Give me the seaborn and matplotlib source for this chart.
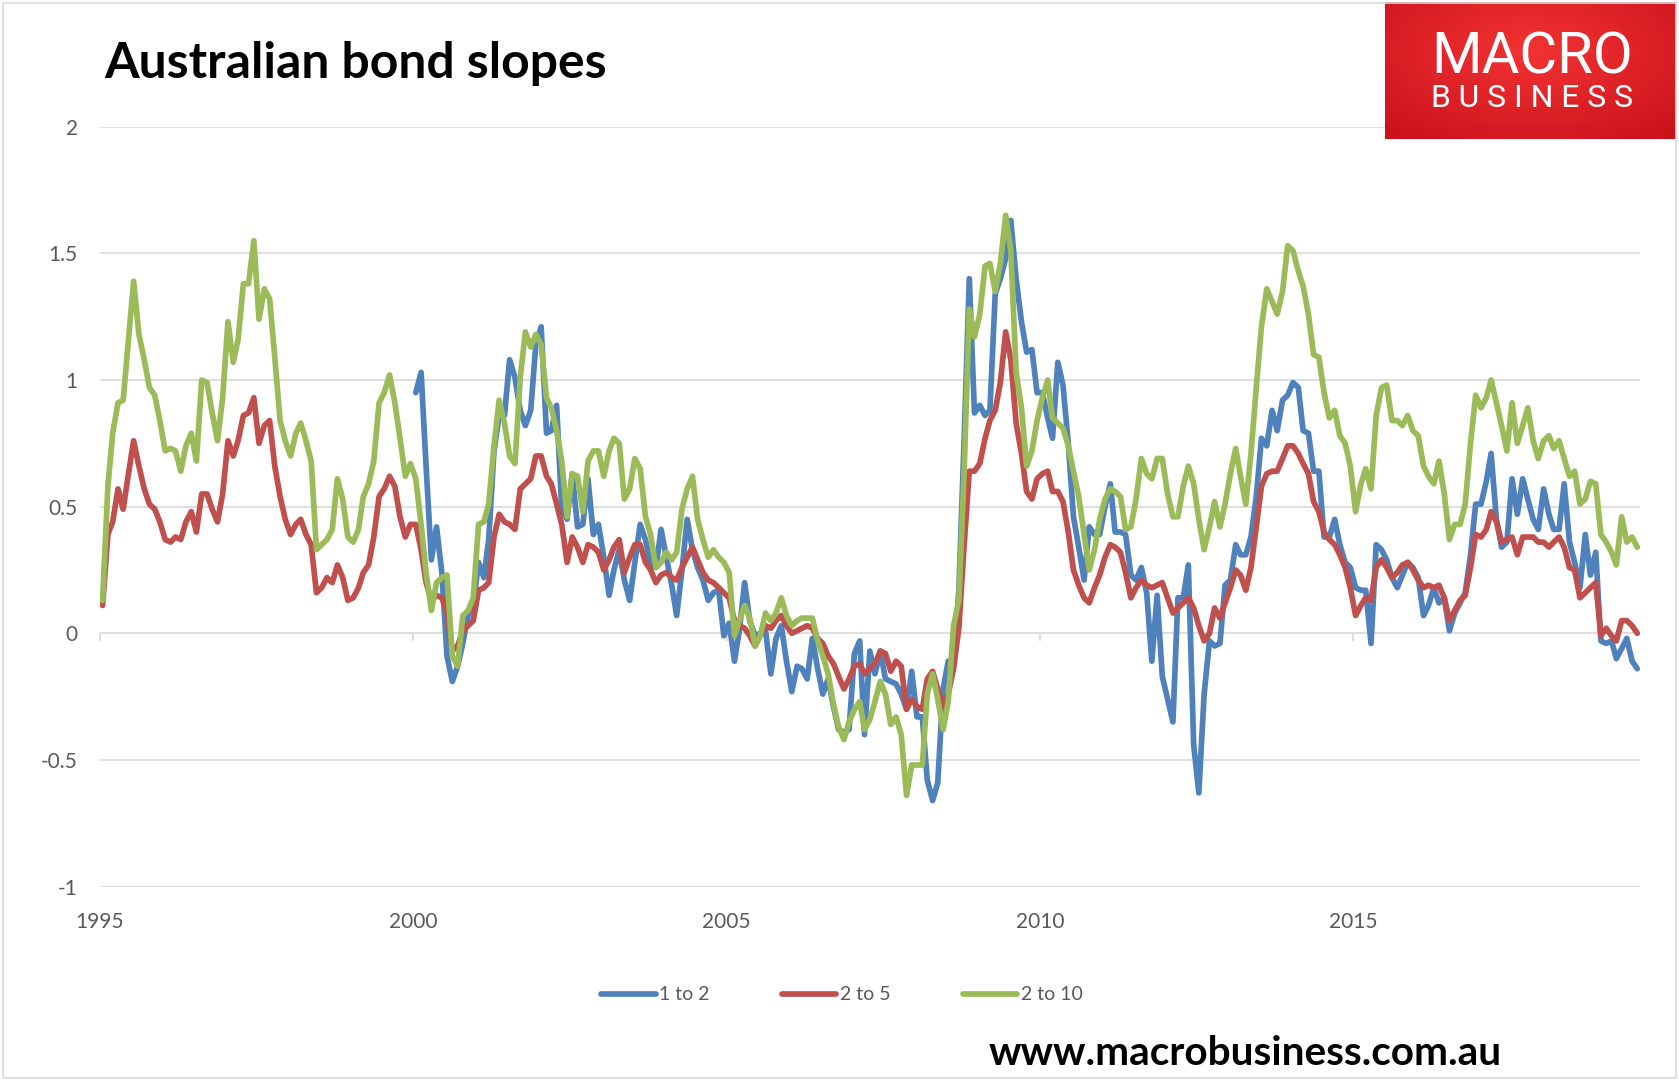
import matplotlib
matplotlib.use("Agg")
import matplotlib.pyplot as plt
import matplotlib.patches as mpatches
import numpy as np
import pandas as pd
import seaborn as sns

# ---------------- data (monthly, Jan 1995 - Jul 2019) ----------------
months = pd.date_range("1995-01-01", periods=295, freq="MS")

slope_2_10 = [
    0.13, 0.58, 0.79, 0.91, 0.92, 1.16, 1.39, 1.18, 1.08, 0.97,
    0.94, 0.84, 0.72, 0.73, 0.72, 0.64, 0.74, 0.79, 0.68, 1.00,
    0.99, 0.87, 0.76, 0.93, 1.23, 1.07, 1.16, 1.38, 1.38, 1.55,
    1.24, 1.36, 1.32, 1.09, 0.84, 0.76, 0.70, 0.79, 0.83, 0.76,
    0.68, 0.33, 0.35, 0.37, 0.41, 0.61, 0.53, 0.38, 0.36, 0.41,
    0.54, 0.59, 0.68, 0.91, 0.95, 1.02, 0.91, 0.77, 0.62, 0.67,
    0.61, 0.43, 0.24, 0.09, 0.20, 0.22, 0.23, -0.09, -0.13, 0.07,
    0.09, 0.14, 0.43, 0.44, 0.51, 0.74, 0.92, 0.83, 0.70, 0.67,
    1.01, 1.19, 1.13, 1.18, 1.14, 0.93, 0.89, 0.80, 0.68, 0.46,
    0.63, 0.62, 0.48, 0.68, 0.72, 0.72, 0.62, 0.72, 0.77, 0.75,
    0.53, 0.57, 0.69, 0.65, 0.46, 0.39, 0.26, 0.28, 0.32, 0.29,
    0.32, 0.49, 0.57, 0.62, 0.45, 0.37, 0.30, 0.33, 0.30, 0.28,
    0.24, -0.01, 0.05, 0.11, 0.06, -0.05, -0.01, 0.08, 0.05, 0.08,
    0.14, 0.07, 0.03, 0.05, 0.06, 0.06, 0.06, -0.03, -0.09, -0.16,
    -0.28, -0.37, -0.42, -0.35, -0.30, -0.27, -0.38, -0.34, -0.27, -0.19,
    -0.24, -0.36, -0.33, -0.40, -0.64, -0.52, -0.52, -0.52, -0.24, -0.16,
    -0.26, -0.38, -0.27, 0.03, 0.13, 0.62, 1.28, 1.17, 1.26, 1.45,
    1.46, 1.35, 1.46, 1.65, 1.51, 1.03, 0.89, 0.66, 0.72, 0.84,
    0.93, 1.00, 0.85, 0.83, 0.81, 0.74, 0.64, 0.54, 0.39, 0.25,
    0.33, 0.45, 0.53, 0.57, 0.56, 0.54, 0.41, 0.42, 0.53, 0.69,
    0.63, 0.61, 0.69, 0.69, 0.55, 0.46, 0.46, 0.58, 0.66, 0.59,
    0.45, 0.33, 0.42, 0.52, 0.42, 0.51, 0.63, 0.73, 0.62, 0.51,
    0.71, 0.97, 1.21, 1.36, 1.31, 1.26, 1.35, 1.53, 1.51, 1.43,
    1.37, 1.26, 1.10, 1.09, 0.95, 0.85, 0.88, 0.78, 0.75, 0.66,
    0.48, 0.59, 0.65, 0.57, 0.86, 0.97, 0.98, 0.84, 0.84, 0.82,
    0.86, 0.80, 0.78, 0.66, 0.62, 0.59, 0.68, 0.55, 0.37, 0.43,
    0.43, 0.51, 0.75, 0.94, 0.89, 0.93, 1.00, 0.91, 0.82, 0.72,
    0.91, 0.75, 0.82, 0.89, 0.76, 0.69, 0.76, 0.78, 0.73, 0.76,
    0.69, 0.62, 0.64, 0.51, 0.53, 0.60, 0.59, 0.39, 0.36, 0.32,
    0.27, 0.46, 0.36, 0.38, 0.34,
]

slope_2_5 = [
    0.11, 0.39, 0.44, 0.57, 0.49, 0.63, 0.76, 0.66, 0.57, 0.51,
    0.49, 0.44, 0.37, 0.36, 0.38, 0.37, 0.44, 0.48, 0.40, 0.55,
    0.55, 0.49, 0.44, 0.55, 0.76, 0.70, 0.76, 0.86, 0.87, 0.93,
    0.75, 0.82, 0.84, 0.66, 0.54, 0.45, 0.39, 0.43, 0.45, 0.39,
    0.35, 0.16, 0.18, 0.22, 0.20, 0.27, 0.22, 0.13, 0.14, 0.18,
    0.24, 0.27, 0.38, 0.54, 0.57, 0.62, 0.58, 0.46, 0.38, 0.43,
    0.43, 0.33, 0.20, 0.13, 0.15, 0.14, 0.08, -0.07, -0.05, 0.01,
    0.03, 0.05, 0.17, 0.18, 0.20, 0.38, 0.47, 0.44, 0.43, 0.41,
    0.57, 0.59, 0.61, 0.70, 0.70, 0.62, 0.59, 0.51, 0.43, 0.28,
    0.38, 0.34, 0.28, 0.35, 0.34, 0.32, 0.25, 0.29, 0.34, 0.37,
    0.24, 0.30, 0.35, 0.35, 0.28, 0.25, 0.20, 0.23, 0.24, 0.22,
    0.21, 0.26, 0.30, 0.34, 0.29, 0.24, 0.21, 0.20, 0.18, 0.16,
    0.14, 0.05, 0.03, 0.02, -0.01, -0.05, -0.01, 0.03, 0.02, 0.05,
    0.07, 0.03, 0.00, 0.01, 0.02, 0.03, 0.02, -0.02, -0.04, -0.09,
    -0.12, -0.17, -0.22, -0.18, -0.13, -0.12, -0.16, -0.14, -0.12, -0.07,
    -0.08, -0.15, -0.11, -0.13, -0.30, -0.26, -0.29, -0.30, -0.18, -0.15,
    -0.22, -0.29, -0.24, -0.14, 0.02, 0.34, 0.64, 0.64, 0.67, 0.77,
    0.84, 0.88, 0.99, 1.19, 1.08, 0.83, 0.71, 0.56, 0.53, 0.61,
    0.63, 0.64, 0.56, 0.56, 0.52, 0.40, 0.25, 0.19, 0.14, 0.12,
    0.18, 0.23, 0.30, 0.35, 0.34, 0.32, 0.24, 0.14, 0.18, 0.21,
    0.19, 0.18, 0.19, 0.20, 0.14, 0.08, 0.10, 0.12, 0.14, 0.10,
    0.03, -0.03, 0.00, 0.10, 0.06, 0.12, 0.18, 0.25, 0.23, 0.17,
    0.26, 0.42, 0.58, 0.63, 0.64, 0.64, 0.69, 0.74, 0.74, 0.71,
    0.67, 0.63, 0.52, 0.48, 0.40, 0.37, 0.35, 0.31, 0.26, 0.18,
    0.07, 0.11, 0.14, 0.13, 0.26, 0.29, 0.26, 0.22, 0.24, 0.27,
    0.28, 0.25, 0.21, 0.18, 0.19, 0.18, 0.19, 0.14, 0.05, 0.09,
    0.13, 0.15, 0.26, 0.39, 0.38, 0.41, 0.48, 0.44, 0.36, 0.37,
    0.38, 0.31, 0.38, 0.38, 0.38, 0.36, 0.36, 0.34, 0.36, 0.38,
    0.34, 0.26, 0.25, 0.14, 0.16, 0.18, 0.20, -0.01, 0.02, -0.01,
    -0.03, 0.05, 0.05, 0.03, 0.00,
]

slope_1_2 = [np.nan] * 60 + [
    0.95, 1.03, 0.66, 0.29, 0.42, 0.24, -0.09, -0.19, -0.13, -0.04,
    0.07, 0.11, 0.28, 0.22, 0.37, 0.72, 0.86, 0.86, 1.08, 1.01,
    0.88, 0.82, 0.88, 1.14, 1.21, 0.79, 0.80, 0.90, 0.49, 0.45,
    0.63, 0.42, 0.43, 0.61, 0.39, 0.43, 0.30, 0.15, 0.25, 0.33,
    0.21, 0.13, 0.28, 0.43, 0.37, 0.27, 0.26, 0.41, 0.30, 0.19,
    0.07, 0.25, 0.45, 0.33, 0.26, 0.21, 0.13, 0.16, 0.17, -0.01,
    0.04, -0.11, 0.01, 0.20, 0.05, -0.01, 0.00, 0.01, -0.16, -0.02,
    0.03, -0.11, -0.23, -0.13, -0.14, -0.18, -0.02, -0.14, -0.24, -0.18,
    -0.29, -0.38, -0.39, -0.38, -0.08, -0.03, -0.40, -0.07, -0.16, -0.07,
    -0.18, -0.19, -0.20, -0.24, -0.30, -0.15, -0.33, -0.33, -0.58, -0.66,
    -0.59, -0.22, -0.11, -0.13, 0.17, 0.75, 1.40, 0.87, 0.90, 0.86,
    0.88, 1.34, 1.40, 1.48, 1.63, 1.40, 1.23, 1.11, 1.12, 0.95,
    0.95, 0.85, 0.77, 1.07, 0.98, 0.75, 0.46, 0.34, 0.21, 0.42,
    0.39, 0.39, 0.50, 0.59, 0.40, 0.40, 0.39, 0.23, 0.21, 0.26,
    0.16, -0.11, 0.15, -0.17, -0.26, -0.35, 0.14, 0.14, 0.27, -0.44,
    -0.63, -0.24, -0.03, -0.05, -0.04, 0.19, 0.21, 0.35, 0.31, 0.31,
    0.38, 0.54, 0.77, 0.74, 0.88, 0.80, 0.92, 0.94, 0.99, 0.97,
    0.80, 0.79, 0.64, 0.64, 0.38, 0.38, 0.45, 0.35, 0.28, 0.26,
    0.18, 0.17, 0.17, -0.04, 0.35, 0.33, 0.29, 0.22, 0.18, 0.23,
    0.28, 0.26, 0.22, 0.07, 0.11, 0.18, 0.12, 0.14, 0.01, 0.08,
    0.12, 0.16, 0.31, 0.51, 0.51, 0.60, 0.71, 0.45, 0.34, 0.36,
    0.61, 0.47, 0.61, 0.53, 0.45, 0.41, 0.57, 0.47, 0.41, 0.41,
    0.59, 0.36, 0.28, 0.18, 0.39, 0.23, 0.32, -0.03, -0.04, -0.03,
    -0.10, -0.06, -0.02, -0.11, -0.14,
]

series_names = ["1 to 2", "2 to 5", "2 to 10"]
series_colors = ["#4F81BD", "#C0504D", "#9BBB59"]
y_ticks = [-1, -0.5, 0, 0.5, 1, 1.5, 2]
y_tick_labels = ["-1", "-0.5", "0", "0.5", "1", "1.5", "2"]
x_tick_years = [1995, 2000, 2005, 2010, 2015]
title = "Australian bond slopes"
site = "www.macrobusiness.com.au"

# ---------------- build long table ----------------
mid = months + pd.Timedelta(days=15)
df = pd.concat([
    pd.DataFrame({"date": mid, "value": slope_1_2, "series": series_names[0]}),
    pd.DataFrame({"date": mid, "value": slope_2_5, "series": series_names[1]}),
    pd.DataFrame({"date": mid, "value": slope_2_10, "series": series_names[2]}),
]).dropna()

# ---------------- figure ----------------
sns.set_theme(style="white")
plt.rcParams["font.family"] = ["Lato", "DejaVu Sans"]

W, H = 1679, 1084
fig = plt.figure(figsize=(W / 100, H / 100), dpi=100)
fig.patch.set_facecolor("white")

ax = fig.add_axes([100 / W, 1 - 886.6 / H, 1540 / W, (886.6 - 126.7) / H])
ax.set_facecolor("white")

sns.lineplot(data=df, x="date", y="value", hue="series",
             hue_order=series_names, palette=series_colors,
             estimator=None, sort=False, linewidth=4.1, legend=False,
             ax=ax, solid_joinstyle="round", solid_capstyle="round",
             zorder=3)

ax.set_xlim(pd.Timestamp("1995-01-01"), pd.Timestamp("2019-08-01"))
ax.set_ylim(-1, 2)
ax.set_yticks(y_ticks)
ax.set_yticklabels(y_tick_labels)
ax.set_xticks([pd.Timestamp(f"{y}-01-01") for y in x_tick_years])
ax.set_xticklabels([str(y) for y in x_tick_years])
ax.set_xlabel("")
ax.set_ylabel("")
for s in ax.spines.values():
    s.set_visible(False)
ax.grid(axis="y", color="#D9D9D9", linewidth=1.2, zorder=1)
ax.grid(axis="x", visible=False)
ax.tick_params(axis="y", length=0, pad=16, labelsize=15, labelcolor="#595959")
ax.tick_params(axis="x", length=0, pad=18, labelsize=15, labelcolor="#595959")

# axis line at zero with small tick marks
sec = ax.secondary_xaxis(1 / 3)
sec.set_xticks([pd.Timestamp(f"{y}-01-01") for y in x_tick_years])
sec.set_xticklabels([])
sec.tick_params(axis="x", direction="out", length=6, width=1.2, color="#D9D9D9")
for s in sec.spines.values():
    s.set_visible(False)

# legend
handles = ax.get_lines()[:3]
leg = fig.legend(handles, series_names, loc="center",
                 bbox_to_anchor=(842 / W, 1 - 995 / H), ncol=3, frameon=False,
                 fontsize=14, handlelength=2.8, handletextpad=0.2,
                 columnspacing=3.7)
for t in leg.get_texts():
    t.set_color("#595959")

renderer = fig.canvas.get_renderer()


def fit_text(x_px, y_px, s, target_w, **kw):
    t = fig.text(x_px / W, 1 - y_px / H, s, fontsize=20, **kw)
    w = t.get_window_extent(renderer).width
    t.set_fontsize(20 * target_w / w)
    return t


fit_text(104, 78, title, 503, fontweight="bold", color="black",
         ha="left", va="baseline")
fit_text(989, 1065, site, 513, fontweight="bold", color="black",
         ha="left", va="baseline")

# logo
lx0, ly0, lx1, ly1 = 1385, 2, 1676, 139
lax = fig.add_axes([lx0 / W, 1 - ly1 / H, (lx1 - lx0) / W, (ly1 - ly0) / H])
yy, xx = np.mgrid[0:1:140j, 0:1:300j]
r = np.sqrt(((xx - 0.5) / 0.8) ** 2 + ((yy - 0.35) / 0.9) ** 2)
top = np.array([0.95, 0.20, 0.20])
edge = np.array([0.78, 0.06, 0.10])
k = np.clip(r, 0, 1)[..., None]
img = top * (1 - k) + edge * k
lax.imshow(img, aspect="auto", extent=(0, 1, 0, 1), origin="upper")
lax.set_xlim(0, 1)
lax.set_ylim(0, 1)
lax.axis("off")


def fit_logo(x_px, y_px, s, target_w, **kw):
    t = fig.text(x_px / W, 1 - y_px / H, s, fontsize=20, color="white",
                 ha="left", va="baseline", zorder=10, **kw)
    w = t.get_window_extent(renderer).width
    t.set_fontsize(20 * target_w / w)
    return t


fit_logo(1431, 73, "MACRO", 202, family=["Roboto", "DejaVu Sans"])
fit_logo(1431, 107, "B U S I N E S S", 202, family=["Roboto", "DejaVu Sans"])

# chart border
fig.patches.append(mpatches.Rectangle((3 / W, 1 - 1078 / H), (1676 - 3) / W,
                                      (1078 - 3) / H, transform=fig.transFigure,
                                      fill=False, edgecolor="#D9D9D9",
                                      linewidth=1.2, zorder=0))

fig.savefig("out.png", dpi=100, facecolor="white")
